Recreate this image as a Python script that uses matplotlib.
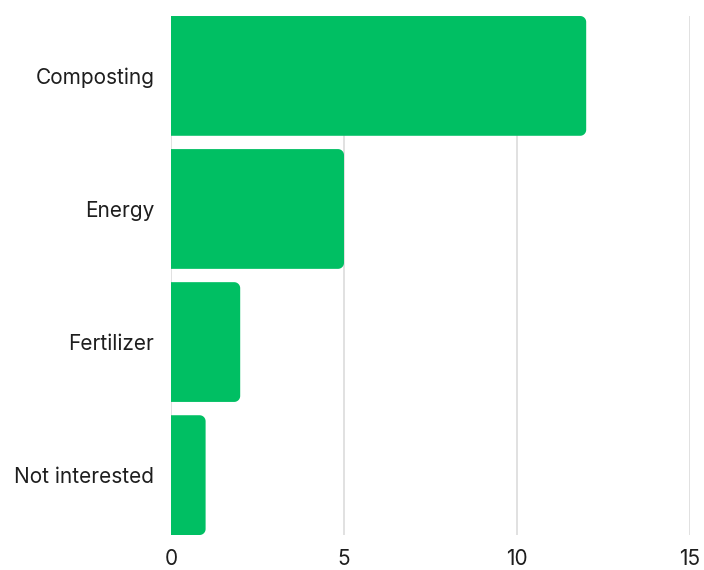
import matplotlib
import numpy as np
from matplotlib import pyplot as plt
from matplotlib.patches import PathPatch
from matplotlib.path import Path

categories = ["Composting", "Energy", "Fertilizer", "Not interested"]
values = [12, 5, 2, 1]
x_ticks = [0, 5, 10, 15]

matplotlib.rcParams.update({"font.family": ["Inter", "DejaVu Sans"], "font.size": 15})

GREEN = "#00bf63"
BAR_H = 0.9


def right_rounded_bar(x0, y0, w, h, rx, ry, n=12):
    # bar with square left corners and rounded right corners
    t = np.linspace(0, np.pi / 2, n)
    pts = [(x0, y0), (x0 + w - rx, y0)]
    cx, cy = x0 + w - rx, y0 + ry
    pts += [(cx + rx * np.sin(a), cy - ry * np.cos(a)) for a in t]
    cy = y0 + h - ry
    pts += [(cx + rx * np.cos(a), cy + ry * np.sin(a)) for a in t]
    pts += [(x0, y0 + h), (x0, y0)]
    return Path(pts, closed=True)


fig = plt.figure(figsize=(7.04, 5.70), dpi=100)
ax = fig.add_axes([0.2429, 0.0614, 0.7372, 0.9105])

ax.set_xlim(0, 15)
ax.set_ylim(len(categories) - 0.55, -0.45)

# corner radius in pixels, converted to data units along each axis
bbox = ax.get_window_extent()
r_px = 6
rx = r_px * 15 / bbox.width
ry = r_px * (len(categories) - 0.1) / bbox.height

for i, v in enumerate(values):
    path = right_rounded_bar(0, i - BAR_H / 2, v, BAR_H, rx, ry)
    ax.add_patch(PathPatch(path, facecolor=GREEN, edgecolor="none", zorder=3))

ax.set_yticks(range(len(categories)))
ax.set_yticklabels(categories, color="#1e1e1e")
ax.set_xticks(x_ticks)
ax.set_xticklabels([str(t) for t in x_ticks], color="#1e1e1e")
ax.tick_params(axis="y", length=0, pad=12)
ax.tick_params(axis="x", length=0, pad=10)

ax.grid(axis="x", color="#d9d9d9", linewidth=1.1, zorder=0)
for s in ax.spines.values():
    s.set_visible(False)

fig.savefig("out.png", dpi=100)
